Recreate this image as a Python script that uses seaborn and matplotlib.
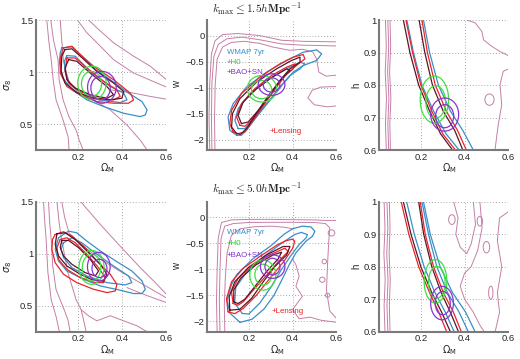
import matplotlib
matplotlib.use("Agg")
import matplotlib.pyplot as plt
from matplotlib.patches import Ellipse
import seaborn as sns

# ====================== DATA ======================
# each contour = (x list, y list) in data units; ellipses = (cx, cy, width, height)

# ---- panel 1 : sigma_8 vs Omega_M, kmax <= 1.5 ----
p1_pink = [
    ([0.059, 0.068, 0.079, 0.088, 0.101, 0.133, 0.156, 0.160], [1.5, 1.3, 1.119, 0.925, 0.732, 0.538, 0.374, 0.25]),
    ([0.077, 0.090, 0.110, 0.115, 0.133, 0.160, 0.192, 0.206, 0.224], [1.5, 1.3, 1.119, 0.925, 0.732, 0.568, 0.442, 0.345, 0.25]),
    ([0.120, 0.127, 0.135, 0.160, 0.210, 0.271, 0.347, 0.423, 0.483, 0.514], [1.5, 1.3, 1.1, 0.9, 0.78, 0.732, 0.635, 0.49, 0.345, 0.25]),
    ([0.198, 0.241, 0.302, 0.362, 0.453, 0.602], [1.5, 1.377, 1.248, 1.119, 0.99, 0.855]),
    ([0.248, 0.302, 0.362, 0.453, 0.529, 0.602], [1.5, 1.394, 1.281, 1.152, 1.055, 0.926]),
    ([0.347, 0.453, 0.529, 0.602], [0.829, 0.797, 0.765, 0.739]),
]
p1_blue_out = ([0.127, 0.173, 0.211, 0.271, 0.347, 0.430, 0.491, 0.514, 0.506, 0.483, 0.408, 0.317, 0.241, 0.173, 0.132, 0.117, 0.120],
               [1.232, 1.242, 1.168, 1.039, 0.926, 0.797, 0.716, 0.635, 0.587, 0.571, 0.603, 0.668, 0.732, 0.829, 0.942, 1.087, 1.184])
p1_blue_in = ([0.150, 0.188, 0.256, 0.347, 0.408, 0.423, 0.392, 0.302, 0.226, 0.165, 0.142, 0.139],
              [1.158, 1.152, 1.006, 0.861, 0.797, 0.732, 0.706, 0.732, 0.781, 0.877, 1.006, 1.103])
p1_red_out = ([0.135, 0.173, 0.203, 0.271, 0.362, 0.438, 0.453, 0.430, 0.362, 0.286, 0.211, 0.150, 0.120, 0.120],
              [1.232, 1.248, 1.184, 1.055, 0.926, 0.797, 0.732, 0.700, 0.700, 0.716, 0.781, 0.861, 0.990, 1.135])
p1_red_in = ([0.150, 0.188, 0.241, 0.317, 0.377, 0.392, 0.362, 0.286, 0.211, 0.158, 0.142],
             [1.135, 1.135, 1.039, 0.910, 0.829, 0.765, 0.732, 0.748, 0.813, 0.894, 1.006])
p1_dark_out = ([0.142, 0.173, 0.211, 0.286, 0.362, 0.408, 0.400, 0.347, 0.271, 0.195, 0.142, 0.124, 0.127],
               [1.216, 1.223, 1.152, 1.006, 0.894, 0.813, 0.748, 0.732, 0.748, 0.803, 0.894, 1.006, 1.152])
p1_dark_in = ([0.158, 0.195, 0.256, 0.332, 0.362, 0.332, 0.256, 0.188, 0.150, 0.142],
              [1.119, 1.103, 0.990, 0.861, 0.781, 0.748, 0.781, 0.845, 0.926, 1.039])
p1_green = [(0.264, 0.894, 0.129, 0.323), (0.262, 0.887, 0.091, 0.238)]
p1_purple = [(0.309, 0.853, 0.130, 0.306), (0.303, 0.845, 0.088, 0.226)]

# ---- panel 2 : w vs Omega_M, kmax <= 1.5 ----
p2_pink = [
    ([0.021, 0.018, 0.021, 0.029, 0.045, 0.08, 0.15, 0.25, 0.35, 0.45, 0.52, 0.602],
     [-2.2, -1.565, -0.927, -0.35, -0.1, 0.02, 0.04, 0.0, -0.09, -0.11, -0.115, -0.12]),
    ([0.031, 0.029, 0.031, 0.04, 0.06, 0.1, 0.17, 0.25, 0.35, 0.45, 0.52, 0.602],
     [-2.2, -1.565, -0.927, -0.4, -0.17, -0.06, -0.03, -0.08, -0.16, -0.185, -0.19, -0.2]),
    ([0.045, 0.043, 0.046, 0.055, 0.08, 0.12, 0.18, 0.25, 0.31, 0.386, 0.447, 0.492, 0.51, 0.52, 0.553, 0.602],
     [-2.2, -1.6, -0.95, -0.45, -0.22, -0.13, -0.11, -0.15, -0.22, -0.282, -0.263, -0.314, -0.45, -0.70, -0.78, -0.76]),
    ([0.602, 0.53, 0.49, 0.47, 0.50, 0.56, 0.602], [-0.98, -0.99, -1.05, -1.2, -1.33, -1.37, -1.35]),
]
p2_blue_out = ([0.144, 0.113, 0.105, 0.128, 0.189, 0.281, 0.373, 0.449, 0.510, 0.533, 0.510, 0.449, 0.403, 0.357, 0.296, 0.235, 0.189, 0.166],
               [-1.917, -1.821, -1.565, -1.310, -0.990, -0.703, -0.479, -0.319, -0.275, -0.351, -0.479, -0.575, -0.703, -0.927, -1.246, -1.565, -1.821, -1.917])
p2_blue_in = ([0.151, 0.136, 0.151, 0.205, 0.296, 0.373, 0.434, 0.456, 0.434, 0.388, 0.342, 0.281, 0.220, 0.182],
              [-1.789, -1.629, -1.406, -1.118, -0.831, -0.639, -0.511, -0.543, -0.639, -0.767, -0.990, -1.310, -1.629, -1.789])
p2_red_out = ([0.128, 0.113, 0.121, 0.166, 0.250, 0.342, 0.403, 0.449, 0.456, 0.418, 0.373, 0.327, 0.273, 0.220, 0.182, 0.151],
              [-1.853, -1.693, -1.438, -1.118, -0.799, -0.543, -0.415, -0.364, -0.447, -0.575, -0.735, -0.990, -1.310, -1.629, -1.853, -1.885])
p2_red_in = ([0.159, 0.144, 0.166, 0.227, 0.304, 0.373, 0.411, 0.403, 0.357, 0.304, 0.250, 0.205, 0.182],
             [-1.725, -1.565, -1.310, -1.022, -0.767, -0.607, -0.543, -0.639, -0.799, -1.086, -1.406, -1.661, -1.744])
p2_dark_out = ([0.144, 0.121, 0.125, 0.159, 0.235, 0.327, 0.395, 0.434, 0.434, 0.388, 0.342, 0.289, 0.235, 0.189, 0.162],
               [-1.885, -1.757, -1.502, -1.214, -0.895, -0.639, -0.479, -0.415, -0.511, -0.639, -0.863, -1.182, -1.502, -1.789, -1.898])
p2_dark_in = ([0.166, 0.151, 0.174, 0.235, 0.311, 0.373, 0.388, 0.350, 0.296, 0.243, 0.197],
              [-1.693, -1.534, -1.278, -1.022, -0.786, -0.639, -0.671, -0.831, -1.118, -1.438, -1.661])
p2_green = [(0.260, -1.022, 0.134, 0.511), (0.258, -1.038, 0.092, 0.351)]
p2_purple = [(0.304, -0.942, 0.122, 0.415), (0.304, -0.949, 0.076, 0.275)]
p2_labels = [(0.10, -0.32), (0.10, -0.51), (0.10, -0.71), (0.295, -1.84)]

# ---- panel 3 : h vs Omega_M, kmax <= 1.5 ----
p3_band_y_l = [1.0, 0.9, 0.8, 0.72, 0.65, 0.6]
p3_band_y_r = [1.0, 0.9, 0.8, 0.72, 0.66, 0.6]
p3_dark_l = [0.120, 0.150, 0.190, 0.240, 0.290, 0.345]
p3_red_l = [0.132, 0.162, 0.200, 0.250, 0.300, 0.358]
p3_blue_l = [0.136, 0.166, 0.205, 0.258, 0.315, 0.375]
p3_dark_r = [0.192, 0.218, 0.253, 0.302, 0.355, 0.392]
p3_red_r = [0.205, 0.230, 0.266, 0.316, 0.368, 0.408]
p3_blue_r = [0.212, 0.240, 0.280, 0.335, 0.392, 0.440]
p3_pink = [
    ([0.038, 0.042, 0.037, 0.043, 0.038, 0.042], [1.0, 0.92, 0.84, 0.76, 0.68, 0.6]),
    ([0.049, 0.053, 0.048, 0.054, 0.049, 0.053], [1.0, 0.92, 0.84, 0.76, 0.68, 0.6]),
    ([0.059, 0.062, 0.057, 0.063, 0.058, 0.061], [1.0, 0.92, 0.84, 0.76, 0.68, 0.6]),
    ([0.411, 0.449, 0.479, 0.487, 0.524, 0.562, 0.607], [1.0, 0.991, 0.965, 0.939, 0.919, 0.903, 0.888]),
    ([0.607, 0.577, 0.562, 0.570, 0.554, 0.539], [0.852, 0.842, 0.801, 0.739, 0.678, 0.6]),
]
p3_pink_loops = [(0.514, 0.755, 0.042, 0.035)]
p3_green = [(0.262, 0.755, 0.130, 0.145), (0.268, 0.748, 0.090, 0.100)]
p3_purple = [(0.309, 0.709, 0.128, 0.102), (0.309, 0.704, 0.083, 0.071)]

# ---- panel 4 : sigma_8 vs Omega_M, kmax <= 5.0 ----
p4_pink = [
    ([0.044, 0.050, 0.056, 0.064, 0.079, 0.101, 0.116], [1.5, 1.3, 1.138, 0.82, 0.558, 0.397, 0.25]),
    ([0.067, 0.072, 0.079, 0.086, 0.101, 0.132, 0.155, 0.165], [1.5, 1.3, 1.138, 0.88, 0.655, 0.493, 0.364, 0.25]),
    ([0.105, 0.115, 0.125, 0.155, 0.192, 0.215, 0.238], [1.5, 1.3, 1.15, 0.816, 0.558, 0.461, 0.25]),
    ([0.215, 0.25, 0.286, 0.347, 0.408, 0.468, 0.514], [0.461, 0.40, 0.355, 0.403, 0.355, 0.307, 0.25]),
    ([0.127, 0.14, 0.16, 0.22, 0.3, 0.4, 0.5, 0.602], [1.5, 1.35, 1.2, 1.08, 0.95, 0.82, 0.7, 0.575]),
    ([0.211, 0.302, 0.392, 0.483, 0.544, 0.602], [1.505, 1.281, 1.073, 0.866, 0.738, 0.61]),
    ([0.423, 0.498, 0.559, 0.602], [0.674, 0.610, 0.562, 0.530]),
]
p4_blue_out = ([0.112, 0.158, 0.195, 0.241, 0.302, 0.377, 0.445, 0.491, 0.506, 0.491, 0.453, 0.392, 0.302, 0.226, 0.150, 0.112, 0.097],
               [1.153, 1.217, 1.201, 1.121, 1.026, 0.923, 0.834, 0.738, 0.658, 0.617, 0.617, 0.649, 0.690, 0.754, 0.834, 0.930, 1.042])
p4_blue_in = ([0.135, 0.173, 0.218, 0.286, 0.362, 0.430, 0.445, 0.415, 0.332, 0.241, 0.173, 0.135, 0.124],
              [1.105, 1.153, 1.105, 0.994, 0.882, 0.786, 0.722, 0.700, 0.722, 0.786, 0.866, 0.962, 1.042])
p4_red_out = ([0.097, 0.135, 0.173, 0.226, 0.286, 0.347, 0.377, 0.370, 0.332, 0.271, 0.195, 0.135, 0.097, 0.082, 0.085],
              [1.185, 1.211, 1.169, 1.073, 0.930, 0.802, 0.706, 0.642, 0.626, 0.658, 0.722, 0.802, 0.914, 1.042, 1.137])
p4_red_in = ([0.120, 0.150, 0.188, 0.241, 0.294, 0.324, 0.317, 0.279, 0.211, 0.150, 0.112, 0.105],
             [1.137, 1.153, 1.105, 0.994, 0.866, 0.770, 0.722, 0.722, 0.770, 0.850, 0.946, 1.058])
p4_dark_out = ([0.105, 0.142, 0.188, 0.241, 0.302, 0.332, 0.317, 0.271, 0.211, 0.150, 0.112, 0.097],
               [1.192, 1.201, 1.137, 1.026, 0.898, 0.802, 0.738, 0.744, 0.802, 0.882, 0.978, 1.089])
p4_dark_in = ([0.127, 0.158, 0.203, 0.256, 0.294, 0.279, 0.233, 0.173, 0.135, 0.120],
              [1.128, 1.128, 1.058, 0.946, 0.834, 0.786, 0.818, 0.898, 0.978, 1.058])
p4_green = [(0.262, 0.869, 0.114, 0.326), (0.262, 0.866, 0.084, 0.256)]
p4_purple = [(0.295, 0.875, 0.103, 0.275), (0.298, 0.858, 0.068, 0.176)]

# ---- panel 5 : w vs Omega_M, kmax <= 5.0 ----
p5_pink = [
    ([0.055, 0.052, 0.055, 0.06, 0.075, 0.12, 0.2, 0.3, 0.4, 0.5, 0.55, 0.602],
     [-2.2, -1.6, -1.0, -0.4, -0.1, -0.05, -0.04, -0.04, -0.045, -0.05, -0.06, -0.06]),
    ([0.068, 0.065, 0.068, 0.073, 0.09, 0.13, 0.2, 0.3, 0.4, 0.5, 0.55, 0.57, 0.565, 0.56, 0.555, 0.57, 0.602],
     [-2.2, -1.6, -1.0, -0.4, -0.17, -0.12, -0.1, -0.096, -0.096, -0.1, -0.12, -0.2, -0.5, -0.9, -1.4, -1.8, -1.95]),
    ([0.09, 0.088, 0.092, 0.10, 0.12, 0.16, 0.23, 0.30, 0.36, 0.40],
     [-2.2, -1.7, -1.2, -0.7, -0.35, -0.22, -0.18, -0.17, -0.19, -0.22]),
    ([0.40, 0.415, 0.43, 0.415, 0.445, 0.40, 0.43, 0.48, 0.53, 0.602],
     [-0.8, -0.91, -1.134, -1.326, -1.519, -1.775, -1.95, -1.92, -1.98, -2.02]),
]
p5_pink_loops = [(0.578, -0.30, 0.03, 0.12), (0.545, -0.85, 0.02, 0.09), (0.536, -1.2, 0.025, 0.1), (0.56, -1.5, 0.02, 0.08)]
p5_blue_out = ([0.16, 0.115, 0.10, 0.12, 0.145, 0.22, 0.30, 0.36, 0.40, 0.445, 0.484, 0.502, 0.491, 0.461, 0.415, 0.385, 0.355, 0.315, 0.27, 0.215],
               [-2.02, -1.85, -1.6, -1.3, -1.1, -0.79, -0.55, -0.33, -0.22, -0.17, -0.185, -0.269, -0.365, -0.46, -0.685, -0.91, -1.17, -1.5, -1.76, -1.96])
p5_blue_in = ([0.17, 0.135, 0.14, 0.19, 0.27, 0.35, 0.41, 0.44, 0.468, 0.461, 0.43, 0.39, 0.35, 0.30, 0.25, 0.20],
              [-1.85, -1.65, -1.35, -1.05, -0.75, -0.5, -0.33, -0.29, -0.333, -0.40, -0.525, -0.75, -1.0, -1.35, -1.65, -1.86])
p5_red_out = ([0.105, 0.098, 0.121, 0.174, 0.25, 0.33, 0.37, 0.40, 0.41, 0.40, 0.36, 0.296, 0.235, 0.174, 0.136],
              [-1.819, -1.561, -1.239, -0.981, -0.755, -0.53, -0.45, -0.42, -0.46, -0.6, -0.85, -1.174, -1.497, -1.755, -1.852])
p5_red_in = ([0.128, 0.121, 0.151, 0.220, 0.296, 0.365, 0.380, 0.342, 0.289, 0.227, 0.174, 0.151],
             [-1.658, -1.432, -1.174, -0.916, -0.723, -0.594, -0.658, -0.819, -1.077, -1.368, -1.626, -1.690])
p5_dark_out = ([0.113, 0.110, 0.136, 0.197, 0.281, 0.357, 0.388, 0.373, 0.319, 0.266, 0.212, 0.159],
               [-1.787, -1.529, -1.239, -0.968, -0.723, -0.561, -0.561, -0.723, -0.948, -1.239, -1.561, -1.768])
p5_dark_in = ([0.131, 0.131, 0.162, 0.232, 0.311, 0.350, 0.334, 0.281, 0.227, 0.182, 0.151],
              [-1.626, -1.4, -1.174, -0.916, -0.723, -0.671, -0.8, -1.045, -1.335, -1.574, -1.658])
p5_green = [(0.264, -1.11, 0.119, 0.581), (0.266, -1.103, 0.077, 0.40)]
p5_purple = [(0.309, -0.948, 0.112, 0.451), (0.308, -0.948, 0.069, 0.323)]
p5_labels = [(0.10, -0.29), (0.10, -0.51), (0.10, -0.73), (0.303, -1.82)]

# ---- panel 6 : h vs Omega_M, kmax <= 5.0 ----
p6_band_y = [1.0, 0.9, 0.8, 0.72, 0.66, 0.6]
p6_red_l = [0.110, 0.145, 0.190, 0.240, 0.282, 0.318]
p6_dark_l = [0.120, 0.155, 0.200, 0.250, 0.295, 0.335]
p6_blue_l = [0.135, 0.170, 0.215, 0.265, 0.312, 0.352]
p6_dark_r = [0.190, 0.213, 0.250, 0.293, 0.335, 0.372]
p6_red_r = [0.197, 0.220, 0.258, 0.303, 0.349, 0.385]
p6_blue_r2 = [0.205, 0.235, 0.273, 0.322, 0.375, 0.417]
p6_blue_r = [0.212, 0.243, 0.288, 0.345, 0.405, 0.448]
p6_pink = [
    ([0.032, 0.036, 0.031, 0.037, 0.032, 0.036], [1.0, 0.92, 0.84, 0.76, 0.68, 0.6]),
    ([0.045, 0.049, 0.044, 0.050, 0.045, 0.049], [1.0, 0.92, 0.84, 0.76, 0.68, 0.6]),
    ([0.056, 0.059, 0.055, 0.060, 0.056, 0.059], [1.0, 0.92, 0.84, 0.76, 0.68, 0.6]),
    ([0.35, 0.37, 0.36, 0.38, 0.41, 0.43, 0.45, 0.44], [1.0, 0.95, 0.9, 0.86, 0.84, 0.87, 0.93, 1.0]),
    ([0.47, 0.48, 0.46, 0.43, 0.40, 0.38, 0.40, 0.44, 0.47, 0.49], [1.0, 0.92, 0.85, 0.80, 0.78, 0.74, 0.70, 0.66, 0.62, 0.6]),
    ([0.602, 0.56, 0.55, 0.57, 0.55, 0.56, 0.54], [0.97, 0.95, 0.88, 0.8, 0.72, 0.66, 0.6]),
]
p6_pink_loops = [(0.342, 0.945, 0.03, 0.03), (0.47, 0.94, 0.025, 0.03), (0.50, 0.86, 0.03, 0.035), (0.52, 0.72, 0.02, 0.04)]
p6_green = [(0.267, 0.755, 0.104, 0.134), (0.273, 0.752, 0.076, 0.098)]
p6_purple = [(0.297, 0.688, 0.104, 0.103), (0.300, 0.688, 0.069, 0.072)]

legend_names = ['WMAP 7yr', '+H0', '+BAO+SN', '+Lensing']
titles = [r'$k_{\max} \leq 1.5h\mathbf{Mpc}^{-1}$', r'$k_{\max} \leq 5.0h\mathbf{Mpc}^{-1}$']

# ====================== STYLE ======================
sns.set_style("white")
plt.rcParams['font.family'] = ['Liberation Sans', 'DejaVu Sans']

PINK = '#c67ea6'
BLUE = '#3a8fc6'
RED = '#e8262b'
DARK = '#5e1426'
GREEN = '#3fdf3f'
PURPLE = '#8a34cf'
legend_colors = ['#2f8fd0', '#22d622', '#7f2fd0', '#e82020']


def trace(ax, c, color, lw=0.9, closed=True):
    xs, ys = list(c[0]), list(c[1])
    if closed:
        xs.append(xs[0])
        ys.append(ys[0])
    sns.lineplot(x=xs, y=ys, ax=ax, color=color, lw=lw, sort=False,
                 estimator=None, legend=False)


def ring(ax, e, color, lw=0.9):
    cx, cy, w, h = e
    ax.add_patch(Ellipse((cx, cy), w, h, fill=False, ec=color, lw=lw, zorder=3))


def style(ax, ylim, yticks, ylabels, ylabel, ylab_x):
    ax.set_xlim(0.01, 0.6)
    ax.set_ylim(*ylim)
    ax.set_xticks([0.2, 0.4, 0.6])
    ax.set_xticklabels(['0.2', '0.4', '0.6'])
    ax.set_yticks(yticks)
    ax.set_yticklabels(ylabels)
    ax.grid(True, ls=(0, (1, 2.5)), color='#8c8c8c', lw=0.6)
    ax.set_axisbelow(True)
    for s in ['top', 'right']:
        ax.spines[s].set_visible(False)
    for s in ['left', 'bottom']:
        ax.spines[s].set_color('#7a7a7a')
        ax.spines[s].set_linewidth(1.5)
    ax.tick_params(labelsize=6.8, length=2, direction='in', color='#7a7a7a', pad=2)
    ax.set_xlabel(r'$\Omega_{\rm M}$', fontsize=7, va='center')
    ax.xaxis.set_label_coords(0.545, -0.14)
    ax.set_ylabel(ylabel, fontsize=7, va='center')
    ax.yaxis.set_label_coords(ylab_x, 0.5)


fig = plt.figure(figsize=(5.2, 3.59), dpi=100)
W, H = 520, 359
def frame(l, t, w, h):
    return fig.add_axes([l / W, 1 - (t + h) / H, w / W, h / H])

# ---- sigma_8 panels ----
for (t, pink, bo, bi, ro, ri, do, di, gr, pu) in [
        (20, p1_pink, p1_blue_out, p1_blue_in, p1_red_out, p1_red_in, p1_dark_out, p1_dark_in, p1_green, p1_purple),
        (201.7, p4_pink, p4_blue_out, p4_blue_in, p4_red_out, p4_red_in, p4_dark_out, p4_dark_in, p4_green, p4_purple)]:
    ax = frame(36, t, 130, 130)
    for c in pink:
        trace(ax, c, PINK, lw=0.7, closed=False)
    for c, col in [(bo, BLUE), (bi, BLUE), (ro, RED), (ri, RED), (do, DARK), (di, DARK)]:
        trace(ax, c, col)
    for e in gr:
        ring(ax, e, GREEN)
    for e in pu:
        ring(ax, e, PURPLE)
    style(ax, (0.25, 1.5), [0.5, 1, 1.5], ['0.5', '1', '1.5'], r'$\sigma_8$', -0.215)

# ---- w panels ----
for (t, pink, loops, bo, bi, ro, ri, do, di, gr, pu, labs) in [
        (20, p2_pink, [], p2_blue_out, p2_blue_in, p2_red_out, p2_red_in, p2_dark_out, p2_dark_in, p2_green, p2_purple, p2_labels),
        (201.7, p5_pink, p5_pink_loops, p5_blue_out, p5_blue_in, p5_red_out, p5_red_in, p5_dark_out, p5_dark_in, p5_green, p5_purple, p5_labels)]:
    ax = frame(207.3, t, 129, 130)
    for c in pink:
        trace(ax, c, PINK, lw=0.7, closed=False)
    for e in loops:
        ring(ax, e, PINK, lw=0.7)
    for c, col in [(bo, BLUE), (bi, BLUE), (ro, RED), (ri, RED), (do, DARK), (di, DARK)]:
        trace(ax, c, col)
    for e in gr:
        ring(ax, e, GREEN)
    for e in pu:
        ring(ax, e, PURPLE)
    for (lx, ly), name, col in zip(labs, legend_names, legend_colors):
        ax.text(lx, ly, name, color=col, fontsize=5.7, va='center', ha='left', zorder=5)
    style(ax, (-2.2, 0.3), [-2, -1.5, -1, -0.5, 0], ['\u22122', '\u22121.5', '\u22121', '\u22120.5', '0'], 'w', -0.235)

# ---- h panels ----
for (t, left, pink, loops, lines, gr, pu) in [
        (20, 379.3, p3_pink, p3_pink_loops,
         [(p3_blue_l, p3_band_y_l, BLUE), (p3_blue_r, p3_band_y_r, BLUE),
          (p3_red_l, p3_band_y_l, RED), (p3_red_r, p3_band_y_r, RED),
          (p3_dark_l, p3_band_y_l, DARK), (p3_dark_r, p3_band_y_r, DARK)], p3_green, p3_purple),
        (201.7, 379.3, p6_pink, p6_pink_loops,
         [(p6_blue_l, p6_band_y, BLUE), (p6_blue_r2, p6_band_y, BLUE), (p6_blue_r, p6_band_y, BLUE),
          (p6_red_l, p6_band_y, RED), (p6_red_r, p6_band_y, RED),
          (p6_dark_l, p6_band_y, DARK), (p6_dark_r, p6_band_y, DARK)], p6_green, p6_purple)]:
    ax = frame(left, t, 129, 130)
    for c in pink:
        trace(ax, c, PINK, lw=0.7, closed=False)
    for e in loops:
        ring(ax, e, PINK, lw=0.7)
    for xs, ys, col in lines:
        trace(ax, (xs, ys), col, closed=False)
    for e in gr:
        ring(ax, e, GREEN)
    for e in pu:
        ring(ax, e, PURPLE)
    style(ax, (0.6, 1.0), [0.6, 0.7, 0.8, 0.9, 1.0], ['0.6', '0.7', '0.8', '0.9', '1'], 'h', -0.18)

fig.text(257 / W, 1 - 8.5 / H, titles[0], fontsize=8.2, ha='center', va='center', math_fontfamily='cm')
fig.text(257 / W, 1 - 189 / H, titles[1], fontsize=8.2, ha='center', va='center', math_fontfamily='cm')

fig.savefig('out.png', dpi=100)
